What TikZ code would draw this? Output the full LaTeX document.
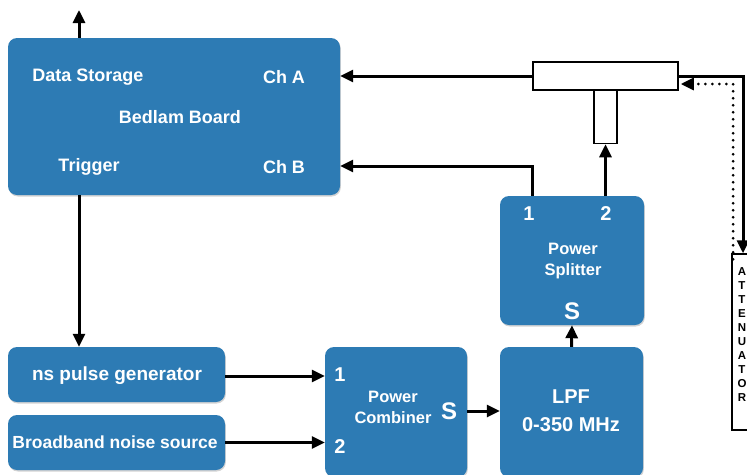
\documentclass[tikz,border=0pt]{standalone}
\usepackage{fontspec}
\setmainfont{Liberation Sans}
\usetikzlibrary{arrows.meta,shadows}
\definecolor{boxblue}{RGB}{45,123,180}
\begin{document}
\begin{tikzpicture}[x=1pt,y=-1pt,
  blk/.style={draw=none,fill=boxblue,rounded corners=9pt,inner sep=0pt,
    drop shadow={shadow xshift=0.8pt,shadow yshift=-1.5pt,opacity=0.35}},
  lbl/.style={text=white,font=\bfseries\fontsize{18}{21}\selectfont,inner sep=0pt},
  slbl/.style={text=white,font=\bfseries\fontsize{16.5}{21}\selectfont,inner sep=0pt,align=center},
  num/.style={text=white,font=\bfseries\fontsize{20}{24}\selectfont,inner sep=0pt},
  wbox/.style={draw=black,line width=1.5pt,fill=white,inner sep=0pt},
  arr/.style={line width=3pt,-{Triangle[length=13pt,width=12pt]}},
  dotarr/.style={line width=3pt,dash pattern=on 0pt off 7pt,line cap=round,-{Triangle[length=13pt,width=12pt]}}
]
\useasboundingbox (0,0) rectangle (747,474);
\clip (0,0) rectangle (747,474);

% blocks
\node[blk,minimum width=332pt,minimum height=157pt] (bedlam) at (174,116.5) {};
\node[blk,minimum width=217pt,minimum height=55pt] (ns) at (116.5,374.5) {};
\node[blk,minimum width=217pt,minimum height=55pt] (bb) at (116.5,442.5) {};
\node[blk,minimum width=142pt,minimum height=130pt] (comb) at (396,412) {};
\node[blk,minimum width=143pt,minimum height=130pt] (lpf) at (571.5,412) {};
\node[blk,minimum width=144pt,minimum height=129pt] (split) at (572,260.5) {};

% T connector and attenuator
\node[wbox,minimum width=145pt,minimum height=28pt] (tbar) at (605.5,76) {};
\node[wbox,minimum width=23pt,minimum height=53pt] (tstub) at (605.5,117) {};
\node[wbox,minimum width=22pt,minimum height=176pt] (att) at (743,342) {};
\node[inner sep=0pt,align=center,font=\bfseries\fontsize{11.5}{14}\selectfont] (attl) at (742,335)
  {A\\T\\T\\E\\N\\U\\A\\T\\O\\R};

% labels
\node[lbl] (dstor) at (88,77) {Data Storage};
\node[lbl] (cha) at (284,77) {Ch A};
\node[lbl] (bname) at (180,117) {Bedlam Board};
\node[lbl] (trig) at (89,167) {Trigger};
\node[lbl] (chb) at (284,167) {Ch B};
\node[lbl,font=\bfseries\fontsize{19}{22}\selectfont] (nsl) at (117,376) {ns pulse generator};
\node[lbl,font=\bfseries\fontsize{17.5}{21}\selectfont] (bbl) at (115,442) {Broadband noise source};
\node[num] (c1) at (340,375) {1};
\node[num] (c2) at (340,447) {2};
\node[slbl] (combl) at (393,407) {Power\\Combiner};
\node[num,font=\bfseries\fontsize{24}{28}\selectfont] (cs) at (449,411) {S};
\node[lbl,align=center,font=\bfseries\fontsize{20}{28}\selectfont] (lpfl) at (571,411) {LPF\\0-350 MHz};
\node[num] (s1) at (529,214) {1};
\node[num] (s2) at (606,214) {2};
\node[slbl] (splitl) at (573,261) {Power\\Splitter};
\node[num,font=\bfseries\fontsize{24}{28}\selectfont] (ss) at (572,311) {S};

% helper coordinates
\coordinate (upx) at (79,10);
\coordinate (p1) at (532,166);
\coordinate (solx) at (743,76);
\coordinate (dotx) at (733,84);

% connectors
\draw[arr] (bedlam.north -| upx) -- (upx);
\draw[arr] (bedlam.south -| upx) -- (ns.north -| upx);
\draw[arr] (tbar.west) -- (bedlam.east |- tbar.west);
\draw[arr] (split.north -| p1) -- (p1) -- (bedlam.east |- p1);
\draw[arr] (split.north -| tstub) -- (tstub.south);
\draw[arr] (lpf.north) -- (split.south);
\draw[arr] (comb.east |- cs) -- (lpf.west |- cs);
\draw[arr] (ns.east |- nsl) -- (comb.west |- nsl);
\draw[arr] (bb.east) -- (comb.west |- bb.east);
\draw[arr] (tbar.east) -- (solx) -- (att.north -| solx);
\draw[dotarr] ([yshift=-6pt]att.north -| dotx) -- (dotx) -- ([xshift=2pt]tbar.east |- dotx);
\end{tikzpicture}
\end{document}
